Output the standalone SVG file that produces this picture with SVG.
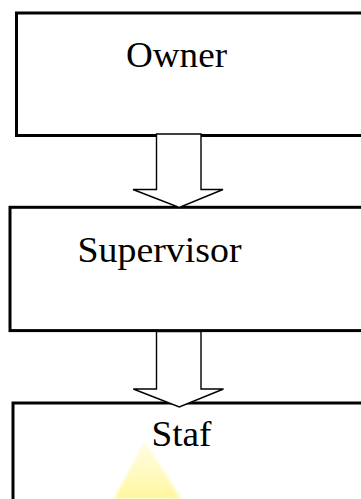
<svg xmlns="http://www.w3.org/2000/svg" width="361" height="499" viewBox="0 0 361 499">
<style>
.box{fill:#fff;stroke:#000;stroke-width:3}
.arrow{fill:#fff;stroke:#000;stroke-width:1.4;stroke-linejoin:miter}
.lbl{font-family:"Liberation Serif","Times New Roman",serif;font-size:35px;fill:#000}
</style>
<defs>
<linearGradient id="wm" x1="0" y1="0" x2="0" y2="1">
<stop offset="0" stop-color="#FFFDE6"/>
<stop offset="1" stop-color="#FFF7A0"/>
</linearGradient>
<filter id="soft" x="-20%" y="-20%" width="140%" height="140%"><feGaussianBlur stdDeviation="1.5"/></filter>
</defs>
<g id="owner">
<rect class="box" x="16.5" y="13" width="360" height="122.5"/>
<text class="lbl" x="126" y="66.5" textLength="101" lengthAdjust="spacingAndGlyphs">Owner</text>
</g>
<g id="supervisor">
<rect class="box" x="10" y="207.3" width="360" height="123.3"/>
<text class="lbl" x="77.5" y="262" textLength="164" lengthAdjust="spacingAndGlyphs">Supervisor</text>
</g>
<g id="staf">
<rect class="box" x="13" y="403" width="360" height="110"/>
<polygon points="145,441 181,499 114,499" fill="url(#wm)" filter="url(#soft)"/>
<text class="lbl" x="151.5" y="445.5" textLength="60" lengthAdjust="spacingAndGlyphs">Staf</text>
</g>
<g id="connectors">
<polygon class="arrow" points="156.5,134 201,134 201,189.5 223,189.5 179.3,207.5 133,189.5 156.5,189.5"/>
<polygon class="arrow" points="156.5,331.5 201,331.5 201,389 223.5,389 179.3,407 133.3,389 156.5,389"/>
</g>
</svg>
